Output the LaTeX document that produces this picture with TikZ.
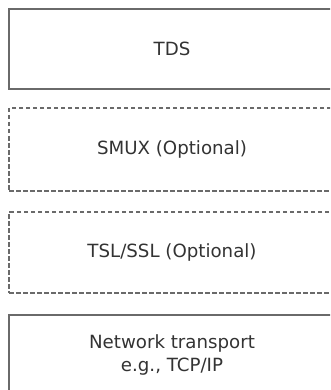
\documentclass[tikz,border=0pt]{standalone}
\usepackage{fontspec}
\setmainfont{DejaVu Sans}
\usepackage{tikz}
\usetikzlibrary{positioning}
\definecolor{layerline}{HTML}{6A6A6A}
\definecolor{layertext}{HTML}{333333}
\begin{document}
\begin{tikzpicture}[
  x=1pt, y=-1pt,
  layer/.style={rectangle, draw=layerline, line width=2.4pt, fill=white,
    minimum width=326pt, minimum height=#1, align=center,
    text=layertext, font=\fontsize{18.2}{23}\selectfont},
  layer/.default=80pt,
  optlayer/.style={layer=#1, line width=2pt, dash pattern=on 4.5pt off 2.5pt},
  optlayer/.default=81pt
]
\useasboundingbox (0,0) rectangle (330,390);
\clip (0,0) rectangle (330,390);
\node[layer] (TDS) at (172,49) {TDS};
\node[optlayer=83pt] (SMUX) at (172,149.5) {SMUX (Optional)};
\node[optlayer] (TSL) at (172,252.5) {TSL/SSL (Optional)};
\node[layer=80pt] (NET) at (172,355) {Network transport\\e.g., TCP/IP};
\end{tikzpicture}
\end{document}
